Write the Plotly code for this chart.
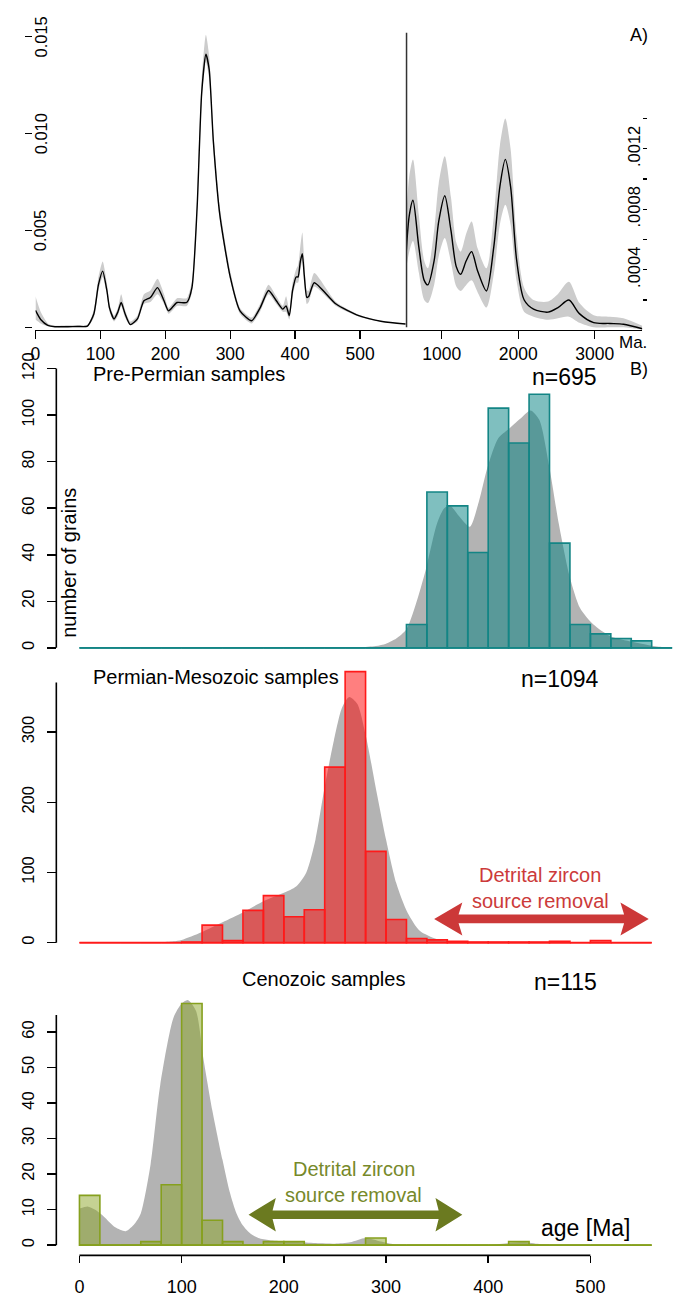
import plotly.graph_objects as go

W, H = 683, 1297
FONT = "Liberation Sans, Arial, Helvetica, sans-serif"


def fx(p):
    return p / W


def fy(p):
    return 1 - p / H


# ---------------- Panel A data (probability density) ----------------
A_LEFT_AGE = [0, 8, 19, 30, 50, 65, 80, 90, 97, 103.5, 110, 114, 121, 127, 132, 138, 146, 157, 167, 177,
              188, 198, 205, 218, 233, 241, 249, 256, 262.5, 267.6, 274, 284, 300, 315, 333, 346, 359, 371,
              381, 386, 391, 396, 401.5, 404.5, 408, 411, 414, 418, 421, 429.4, 463, 498, 534, 570]
A_LEFT_PDF = [.00087, .0004, .0001, .00003, .00003, .00004, .00006, .0007, .0022, .0029, .0019, .001, .00043,
              .0008, .00128, .0007, .00014, .00043, .00137, .00154, .00205, .00137, .00085, .00128, .00128,
              .00205, .0062, .0121, .0141, .0133, .0096, .0058, .0026, .00085, .00034, .001, .0019, .00137,
              .00094, .0011, .0006, .0019, .0026, .0026, .0034, .0038, .0027, .00154, .0016, .0023, .0012,
              .0006, .0003, .00017]
A_LEFT_LO = [.0004, .0002, .00005, .00001, .00001, .00001, .00002, .0005, .0019, .0026, .0017, .0008, .0003,
             .0006, .0011, .0005, .0001, .0003, .0012, .0013, .0017, .0012, .0007, .0011, .0011,
             .0018, .0058, .0116, .0137, .0128, .0092, .0055, .0024, .0007, .0002, .0008, .0017, .0012,
             .0008, .0008, .0004, .0016, .0023, .0023, .003, .0034, .0023, .0012, .0013, .0021, .0011,
             .00055, .00028, .00016]
A_LEFT_HI = [.0016, .0008, .0002, .00008, .0001, .0001, .00012, .0009, .0026, .0034, .0023, .0012, .0006,
             .001, .0017, .0009, .0003, .0006, .0017, .0019, .0025, .0017, .001, .0015, .0015,
             .0024, .0066, .0128, .0151, .014, .0101, .0062, .0029, .001, .0005, .0012, .0022, .0016,
             .0011, .0016, .0009, .0023, .003, .0032, .0042, .0049, .0035, .0019, .0019, .0028, .0013,
             .00065, .00032, .00018]

A_RIGHT_AGE = [532, 575, 623, 700, 770, 818, 900, 960, 1039, 1120, 1190, 1247, 1320, 1390, 1470, 1584, 1680,
               1760, 1831, 1900, 1980, 2078, 2200, 2390, 2520, 2662, 2800, 2987, 3200, 3377, 3623]
A_RIGHT_PDF = [.00049, .00076, .00086, .00055, .00033, .0003, .00046, .00072, .00089, .00066, .00042, .00037,
               .00046, .00052, .00039, .00026, .00055, .00095, .00113, .00095, .00046, .0002, .00014, .00012,
               .00015, .0002, .00011, .00005, .000045, .00004, .00001]
A_RIGHT_LO = [.0004, .00052, .00059, .00038, .0002, .00018, .0003, .00049, .00061, .00045, .00029, .00026,
              .0003, .00033, .00025, .00015, .00037, .0007, .00083, .0007, .00032, .00012, .00009, .00007,
              .00008, .00009, .00005, .00002, .00002, .00002, .000005]
A_RIGHT_HI = [.00072, .00102, .00113, .00076, .00046, .00041, .00066, .00097, .00115, .00088, .00058, .00052,
              .00064, .00072, .00054, .00041, .00075, .00122, .0014, .0012, .00062, .00028, .0002, .00019,
              .00024, .00032, .00018, .0001, .00009, .00008, .00003]

A_LEFT_TICKS = [0, 100, 200, 300, 400, 500]
A_RIGHT_TICKS = [1000, 2000, 3000]
A_LEFT_YTICKS = [0, 0.005, 0.010, 0.015]
A_LEFT_YLABELS = ["", "0.005", "0.010", "0.015"]
A_RIGHT_YTICKS = [0.0004, 0.0008, 0.0012]
A_RIGHT_YLABELS = [".0004", ".0008", ".0012"]
A_RIGHT_YMINOR = [0.0002, 0.0006, 0.0010, 0.0014]

# ---------------- Panel B data (histograms, 20 Ma bins) ----------------
PRE_BINS = [0, 20, 40, 60, 80, 100, 120, 140, 160, 180, 200, 220, 240, 260, 280, 300, 320, 340, 360, 380,
            400, 420, 440, 460, 480, 500, 520, 540, 560]
PRE_COUNTS = [0, 0, 0, 0, 0, 0, 0, 0, 0, 0, 0, 0, 0, 0, 0, 0, 10, 67, 61, 41,
              103, 88, 109, 45, 10, 6, 4, 3, 0]
PRE_KDE_AGE = [0, 250, 274, 290, 300, 310, 320, 329, 339, 350, 357, 363, 371.6, 382, 390.7, 399.6, 409.7,
               419.5, 431, 441.5, 450, 459.7, 469, 479.7, 490, 503, 520, 541, 559, 571, 580]
PRE_KDE = [0, 0, 0.2, 0.8, 1.8, 4, 8, 18.5, 33.7, 53.5, 60, 61, 56.5, 52, 62.6, 78, 90,
           93.8, 98.3, 102, 98, 78, 53.5, 30.7, 17, 10, 4.9, 2.6, 1, 0.3, 0]

PM_BINS = [0, 20, 40, 60, 80, 100, 120, 140, 160, 180, 200, 220, 240, 260, 280, 300, 320, 340, 360, 380,
           400, 420, 440, 460, 480, 500, 520, 540]
PM_COUNTS = [0, 0, 0, 0, 0, 1, 25, 3, 46, 67, 37, 47, 250, 386, 130, 33, 6, 4, 2, 1,
             1, 1, 1, 2, 0, 3, 0, 0]
PM_KDE_AGE = [0, 60, 79, 92, 100, 119.5, 140, 160, 180, 200, 212, 222, 231, 240, 249, 257, 264, 272, 280.5,
              291, 300, 310, 321, 333, 350, 372, 400, 560]
PM_KDE = [0, 0, 0.5, 2, 4, 15, 29, 43, 59, 71, 80, 100, 147, 222, 288, 335, 350, 340, 293,
          213, 147, 85, 43, 17, 5, 1, 0, 0]

CEN_BINS = [0, 20, 40, 60, 80, 100, 120, 140, 160, 180, 200, 220, 240, 260, 280, 300, 320, 340, 360, 380,
            400, 420, 440, 460, 480, 500, 520, 540]
CEN_COUNTS = [14, 0, 0, 1, 17, 68, 7, 1, 0, 1, 1, 0, 0, 0, 2, 0, 0, 0, 0, 0,
              0, 1, 0, 0, 0, 0, 0, 0]
CEN_KDE_AGE = [0, 8, 15, 24, 35, 45.3, 54, 60, 69.6, 79, 92, 100, 106, 114, 121.6, 130, 140, 147, 153.7,
               160, 166.7, 175, 186, 200, 218, 235, 250, 265, 280, 295, 308, 330, 400, 422, 435, 450, 470, 560]
CEN_KDE = [10.3, 10.9, 10, 8, 5, 3.9, 6, 8.9, 22.7, 45, 64, 68, 69, 66, 52, 38, 24, 15, 8.9,
           5.5, 3.4, 2, 1.4, 1.1, 0.8, 0.5, 0.4, 0.8, 2, 1, 0.2, 0, 0, 0.6, 0.8, 0.3, 0, 0]

PRE_YTICKS = [0, 20, 40, 60, 80, 100, 120]
PM_YTICKS = [0, 100, 200, 300]
CEN_YTICKS = [0, 10, 20, 30, 40, 50, 60]
AGE_TICKS = [0, 100, 200, 300, 400, 500]
BIN_WIDTH = 20

# ---------------- styles ----------------
BAND_GREY = "#CCCCCC"
KDE_GREY = "#B3B3B3"
TEAL_FILL, TEAL_EDGE = "rgba(0,128,128,0.5)", "#138585"
RED_FILL, RED_EDGE = "rgba(255,0,0,0.5)", "#FF1A1A"
OLIVE_FILL, OLIVE_EDGE = "rgba(140,166,40,0.5)", "#86A01E"
RED_ARROW, RED_TEXT = "#CC3838", "#CC3A3A"
OLIVE_ARROW, OLIVE_TEXT = "#6B7A20", "#77892A"

fig = go.Figure()

# ---- Panel A, left part ----
fig.add_trace(go.Scatter(x=A_LEFT_AGE, y=A_LEFT_HI, mode="lines", line=dict(width=0, shape="spline", smoothing=0.6),
                         xaxis="x", yaxis="y", hoverinfo="skip"))
fig.add_trace(go.Scatter(x=A_LEFT_AGE, y=A_LEFT_LO, mode="lines", line=dict(width=0, shape="spline", smoothing=0.6),
                         fill="tonexty", fillcolor=BAND_GREY, xaxis="x", yaxis="y", hoverinfo="skip"))
fig.add_trace(go.Scatter(x=A_LEFT_AGE, y=A_LEFT_PDF, mode="lines",
                         line=dict(color="black", width=1.4, shape="spline", smoothing=0.6),
                         xaxis="x", yaxis="y", hoverinfo="skip"))
# ---- Panel A, right part ----
fig.add_trace(go.Scatter(x=A_RIGHT_AGE, y=A_RIGHT_HI, mode="lines", line=dict(width=0, shape="spline", smoothing=0.8),
                         xaxis="x2", yaxis="y2", hoverinfo="skip"))
fig.add_trace(go.Scatter(x=A_RIGHT_AGE, y=A_RIGHT_LO, mode="lines", line=dict(width=0, shape="spline", smoothing=0.8),
                         fill="tonexty", fillcolor=BAND_GREY, xaxis="x2", yaxis="y2", hoverinfo="skip"))
fig.add_trace(go.Scatter(x=A_RIGHT_AGE, y=A_RIGHT_PDF, mode="lines",
                         line=dict(color="black", width=1.4, shape="spline", smoothing=0.8),
                         xaxis="x2", yaxis="y2", hoverinfo="skip"))


def add_hist(bins, counts, kde_age, kde, fill, edge, xa, ya, ya_over):
    # grey density on the base subplot
    fig.add_trace(go.Scatter(x=kde_age, y=kde, mode="lines", fill="tozeroy", fillcolor=KDE_GREY,
                             line=dict(width=0, shape="spline", smoothing=0.7),
                             xaxis=xa, yaxis=ya, hoverinfo="skip"))
    # histogram on an overlaying axis so that it is drawn above the density
    centers = [b + BIN_WIDTH / 2 for b in bins]
    fig.add_trace(go.Bar(x=centers, y=counts, width=BIN_WIDTH,
                         marker=dict(color=fill, line=dict(color=edge, width=1.6)),
                         xaxis=xa, yaxis=ya_over, hoverinfo="skip"))
    fig.add_trace(go.Scatter(x=[bins[0], bins[-1] + BIN_WIDTH], y=[0, 0], mode="lines",
                             line=dict(color=edge, width=1.8), xaxis=xa, yaxis=ya_over, hoverinfo="skip"))


add_hist(PRE_BINS, PRE_COUNTS, PRE_KDE_AGE, PRE_KDE, TEAL_FILL, TEAL_EDGE, "x3", "y3", "y6")
add_hist(PM_BINS, PM_COUNTS, PM_KDE_AGE, PM_KDE, RED_FILL, RED_EDGE, "x4", "y4", "y7")
add_hist(CEN_BINS, CEN_COUNTS, CEN_KDE_AGE, CEN_KDE, OLIVE_FILL, OLIVE_EDGE, "x5", "y5", "y8")

tickfont = dict(family=FONT, size=16.5, color="black")
tickfontA = dict(family=FONT, size=17.5, color="black")
common = dict(showgrid=False, zeroline=False, fixedrange=True)

B_XDOM = [fx(60), 1.0]
B_XRANGE = [(60 - 75) / 1.0294, (683 - 75) / 1.0294]

yB_common = dict(anchor="free", position=fx(51.7), side="left", showline=False, ticks="outside",
                 ticklen=9, tickwidth=1.5, tickcolor="black", tickangle=-90, tickfont=tickfont,
                 ticklabelstandoff=7, **common)

RANGE_B1 = [(643.3 - 650) / 2.347, (643.3 - 355) / 2.347]
RANGE_B2 = [(940.7 - 947) / 0.7083, (940.7 - 660) / 0.7083]
RANGE_B3 = [(1245.7 - 1251) / 3.583, (1245.7 - 990) / 3.583]
DOM_B1 = [fy(650), fy(355)]
DOM_B2 = [fy(947), fy(660)]
DOM_B3 = [fy(1251), fy(990)]
DOM_A = [fy(322.7), fy(0)]

fig.update_layout(
    width=W, height=H, autosize=False,
    margin=dict(l=0, r=0, t=0, b=0),
    paper_bgcolor="white", plot_bgcolor="rgba(0,0,0,0)",
    showlegend=False, bargap=0, barmode="overlay", hovermode=False,
    font=dict(family=FONT, color="black"),
    xaxis=dict(domain=[fx(30.7), fx(404)], range=[0, 570.8], anchor="y", showline=True, linecolor="black",
               linewidth=1.4, ticks="outside", ticklen=8, tickwidth=1.4, tickcolor="black",
               tickvals=A_LEFT_TICKS, tickfont=tickfontA, **common),
    xaxis2=dict(domain=[fx(404), fx(642)], range=[532.5, 3623], anchor="y2", showline=True, linecolor="black",
                linewidth=1.4, ticks="outside", ticklen=8, tickwidth=1.4, tickcolor="black",
                tickvals=A_RIGHT_TICKS, tickfont=tickfontA, **common),
    yaxis=dict(domain=DOM_A, range=[(320 - 322.7) / 19533.3, (320 - 0) / 19533.3],
               anchor="free", position=fx(27), side="left", showline=False, ticks="outside", ticklen=7,
               tickwidth=1.3, tickcolor="black", tickvals=A_LEFT_YTICKS, showticklabels=False, **common),
    yaxis2=dict(domain=DOM_A, range=[(323 - 322.7) / 152500, (323 - 0) / 152500],
                anchor="free", position=fx(647), side="right", showline=False, ticks="inside", ticklen=4,
                tickwidth=1.3, tickcolor="black", tickvals=A_RIGHT_YTICKS, ticktext=A_RIGHT_YLABELS,
                ticklabelposition="inside", tickangle=-90, tickfont=tickfont,
                minor=dict(tickvals=A_RIGHT_YMINOR, ticks="inside", ticklen=4, tickwidth=1.3, tickcolor="black"),
                **common),
    xaxis3=dict(domain=B_XDOM, range=B_XRANGE, anchor="y3", visible=False, **common),
    xaxis4=dict(domain=B_XDOM, range=B_XRANGE, anchor="y4", visible=False, **common),
    xaxis5=dict(domain=B_XDOM, range=B_XRANGE, anchor="free", position=fy(1256), showline=False,
                ticks="outside", ticklen=7, tickwidth=1.5, tickcolor="black", tickvals=AGE_TICKS,
                tickfont=dict(family=FONT, size=18, color="black"), ticklabelstandoff=8, **common),
    yaxis3=dict(domain=DOM_B1, range=RANGE_B1, tickvals=PRE_YTICKS, **yB_common),
    yaxis4=dict(domain=DOM_B2, range=RANGE_B2, tickvals=PM_YTICKS, **yB_common),
    yaxis5=dict(domain=DOM_B3, range=RANGE_B3, tickvals=CEN_YTICKS, **yB_common),
    yaxis6=dict(domain=DOM_B1, range=RANGE_B1, overlaying="y3", anchor="x3", visible=False, **common),
    yaxis7=dict(domain=DOM_B2, range=RANGE_B2, overlaying="y4", anchor="x4", visible=False, **common),
    yaxis8=dict(domain=DOM_B3, range=RANGE_B3, overlaying="y5", anchor="x5", visible=False, **common),
)

shapes = [
    # separator between the two scales of panel A
    dict(type="line", xref="paper", yref="paper", x0=fx(404.5), x1=fx(404.5), y0=fy(23), y1=fy(320),
         line=dict(color="#333333", width=1.5)),
    # y-axis lines of panel B
    dict(type="line", xref="paper", yref="y3", x0=fx(51.7), x1=fx(51.7), y0=0, y1=PRE_YTICKS[-1],
         line=dict(color="black", width=1.6)),
    dict(type="line", xref="paper", yref="y4", x0=fx(51.7), x1=fx(51.7), y0=0, y1=370.5,
         line=dict(color="black", width=1.6)),
    dict(type="line", xref="paper", yref="y5", x0=fx(51.7), x1=fx(51.7), y0=0, y1=64.8,
         line=dict(color="black", width=1.6)),
    # bottom age axis line
    dict(type="line", xref="x5", yref="paper", x0=AGE_TICKS[0], x1=AGE_TICKS[-1], y0=fy(1256), y1=fy(1256),
         line=dict(color="black", width=1.6)),
    # double arrows
    dict(type="path", xref="x4", yref="y4", fillcolor=RED_ARROW, line=dict(width=0),
         path="M 347.1,33.9 L 374.7,57.4 L 371,40.2 L 533,40.2 L 529.4,57.4 L 557.1,33.9 "
              "L 529.4,10.4 L 533,27.6 L 371,27.6 L 374.7,10.4 Z"),
    dict(type="path", xref="x5", yref="y5", fillcolor=OLIVE_ARROW, line=dict(width=0),
         path="M 165.5,8.57 L 192.2,13.3 L 189,9.77 L 351.5,9.77 L 348.4,13.3 L 374.7,8.57 "
              "L 348.4,3.84 L 351.5,7.37 L 189,7.37 L 192.2,3.84 Z"),
]
fig.update_layout(shapes=shapes)


def ann(text, xp, yp, size, xanchor="center", color="black", angle=0):
    return dict(text=text, x=fx(xp), y=fy(yp), xref="paper", yref="paper", showarrow=False,
                xanchor=xanchor, yanchor="middle", textangle=angle,
                font=dict(family=FONT, size=size, color=color))


annotations = [
    ann("A)", 639, 25, 18),
    ann("Ma.", 633, 335, 17),
    ann("B)", 639, 362, 18),
    ann("Pre-Permian samples", 86.5, 366.7, 20, xanchor="left"),
    ann("n=695", 598, 370, 23, xanchor="right"),
    ann("number of grains", 65, 558, 20, angle=-90),
    ann("Permian-Mesozoic samples", 86.5, 672.7, 20, xanchor="left"),
    ann("n=1094", 600, 675, 23, xanchor="right"),
    ann("Detrital zircon", 539, 872.7, 20, color=RED_TEXT),
    ann("source removal", 539, 898.3, 20, color=RED_TEXT),
    ann("Cenozoic samples", 321, 977.3, 20),
    ann("n=115", 598, 980, 23, xanchor="right"),
    ann("Detrital zircon", 351.5, 1169.3, 20, color=OLIVE_TEXT),
    ann("source removal", 351.5, 1195, 20, color=OLIVE_TEXT),
    ann("age [Ma]", 585, 1228, 23),
]
# rotated density labels of panel A (left scale), placed on the right of their ticks
for val, lab in zip(A_LEFT_YTICKS, A_LEFT_YLABELS):
    if lab:
        annotations.append(dict(text=lab, x=fx(36), y=val, xref="paper", yref="y", showarrow=False,
                                xanchor="center", yanchor="middle", textangle=-90,
                                font=dict(family=FONT, size=16.5, color="black")))
fig.update_layout(annotations=annotations)

fig.write_html("out.html", config={"displayModeBar": False, "staticPlot": True})
